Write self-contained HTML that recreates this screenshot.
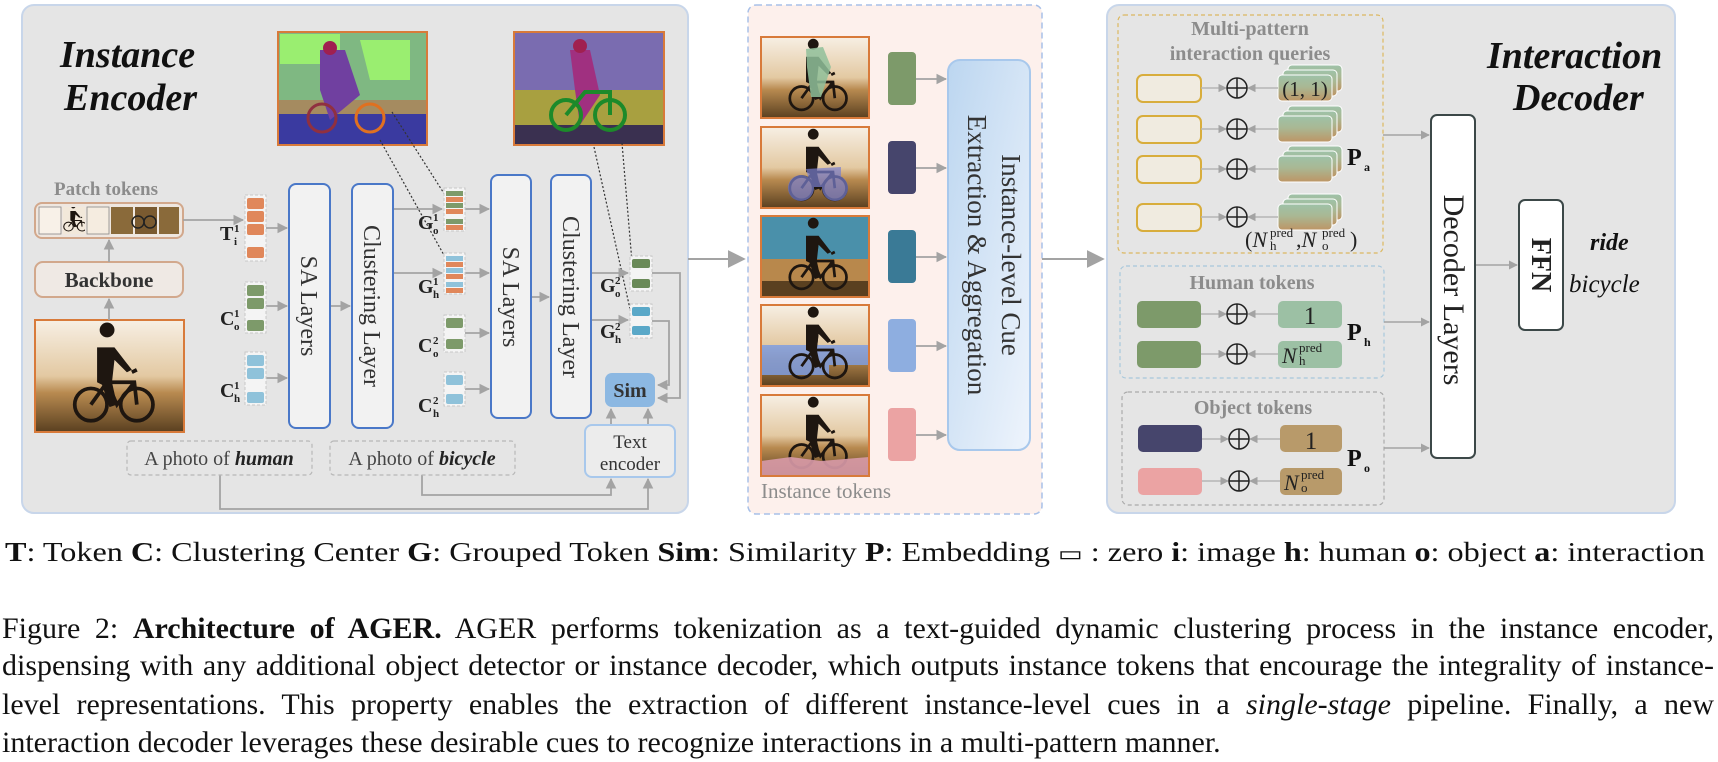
<!DOCTYPE html>
<html><head><meta charset="utf-8">
<style>
html,body{margin:0;padding:0;background:#fff;width:1718px;height:760px;overflow:hidden}
svg text{font-family:"Liberation Serif",serif}
.cap{position:absolute;left:2px;width:1712px;font-family:"Liberation Serif",serif;font-size:30px;color:#111;text-align:justify;text-align-last:justify;white-space:nowrap;line-height:38px}
</style></head><body>
<svg width="1718" height="760" viewBox="0 0 1718 760" style="position:absolute;left:0;top:0">
<defs>
<marker id="ar" viewBox="0 0 10 10" refX="9" refY="5" markerWidth="6" markerHeight="6" orient="auto"><path d="M0,0 L10,5 L0,10 z" fill="#a3a3a3"/></marker>
<marker id="arb" viewBox="0 0 10 10" refX="9" refY="5" markerWidth="9" markerHeight="9" orient="auto"><path d="M0,0 L10,5 L0,10 z" fill="#a3a3a3"/></marker>
<linearGradient id="sep" x1="0" y1="0" x2="0" y2="1"><stop offset="0" stop-color="#f7efe4"/><stop offset="0.5" stop-color="#e3c9a2"/><stop offset="0.65" stop-color="#b88a50"/><stop offset="1" stop-color="#5a4020"/></linearGradient>
<linearGradient id="cue" x1="0" y1="0" x2="1" y2="1"><stop offset="0" stop-color="#bcd6f0"/><stop offset="1" stop-color="#eef4fc"/></linearGradient>
<linearGradient id="stk" x1="0" y1="0" x2="0" y2="1"><stop offset="0" stop-color="#9ec2a8"/><stop offset="0.45" stop-color="#a9b894"/><stop offset="1" stop-color="#bd9565"/></linearGradient>
<symbol id="cyc" viewBox="0 0 120 90">
<g fill="none" stroke="#1e1610" stroke-width="3"><circle cx="45" cy="68" r="13"/><circle cx="82" cy="68" r="13"/><path d="M45,68 L58,50 L80,50 L82,68 M58,50 L66,68 L80,50 M78,42 L82,40"/></g>
<path d="M58,14 a6,6 0 1 1 0.1,0 z M50,22 L64,22 L78,40 L74,42 L64,32 L62,50 L66,68 L60,70 L54,52 L50,50 Z" fill="#1e1610"/>
</symbol>
<symbol id="ph" viewBox="0 0 120 90" preserveAspectRatio="none"><rect width="120" height="90" fill="url(#sep)"/><use href="#cyc" width="120" height="90"/></symbol>
</defs>

<rect x="22" y="5" width="666" height="508" rx="12" fill="#e5e5e5" stroke="#c8d6ea" stroke-width="2"/>
<text x="60" y="67" font-size="38" font-style="italic" font-weight="bold" fill="#111">Instance</text>
<text x="64" y="110" font-size="38" font-style="italic" font-weight="bold" fill="#111">Encoder</text>
<rect x="278" y="32" width="149" height="113" fill="#7fb882" stroke="#d87a3a" stroke-width="2"/>
<path d="M280,34 h60 v30 h-60z M360,40 h50 v40 h-40z" fill="#9aee70"/>
<rect x="279" y="100" width="147" height="44" fill="#3a3aa0"/>
<path d="M279,100 h147 v14 h-147z" fill="#c0a050" opacity="0.8"/>
<path d="M320,50 L345,50 L360,95 L330,120 L320,90Z" fill="#7040a0"/>
<circle cx="330" cy="48" r="7" fill="#a02050"/>
<circle cx="322" cy="118" r="14" fill="none" stroke="#903040" stroke-width="3"/>
<circle cx="370" cy="118" r="14" fill="none" stroke="#e07020" stroke-width="3"/>
<rect x="514" y="32" width="150" height="113" fill="#7a6cb0" stroke="#d87a3a" stroke-width="2"/>
<rect x="515" y="90" width="148" height="54" fill="#a8a040"/>
<rect x="515" y="125" width="148" height="19" fill="#3a3050"/>
<path d="M570,50 L590,50 L600,95 L580,125 L575,90Z" fill="#a03080"/>
<circle cx="580" cy="46" r="7" fill="#a02050"/>
<circle cx="566" cy="115" r="15" fill="none" stroke="#1c8a2a" stroke-width="4"/>
<circle cx="610" cy="115" r="15" fill="none" stroke="#1c8a2a" stroke-width="4"/>
<path d="M566,115 L585,92 L610,92 L610,115" fill="none" stroke="#1c8a2a" stroke-width="4"/>
<g stroke="#333" stroke-width="1.2" stroke-dasharray="2,2" fill="none">
<path d="M380,140 L445,257"/><path d="M392,112 L445,195"/>
<path d="M594,147 L630,309"/><path d="M622,143 L632,262"/>
</g>
<text x="54" y="195" font-size="19" font-weight="bold" fill="#8c8c8c">Patch tokens</text>
<rect x="35" y="203" width="148" height="35" rx="7" fill="#efe7e0" stroke="#d2a88c" stroke-width="2"/>
<rect x="39" y="207" width="22" height="27" fill="#f8f1e8" stroke="#888" stroke-width="0.8"/>
<svg x="63" y="207" width="22" height="27" viewBox="30 10 60 80" preserveAspectRatio="none"><rect x="0" y="0" width="120" height="90" fill="#f2e8da"/><use href="#cyc" width="120" height="90"/></svg>
<rect x="87" y="207" width="22" height="27" fill="#f5ece0" stroke="#888" stroke-width="0.8"/>
<rect x="111" y="207" width="22" height="27" fill="#8a6a3a"/>
<rect x="135" y="207" width="22" height="27" fill="#7a5a30"/>
<rect x="159" y="207" width="20" height="27" fill="#8a6a3a"/>
<circle cx="138" cy="222" r="6" fill="none" stroke="#222" stroke-width="1.5"/><circle cx="150" cy="222" r="6" fill="none" stroke="#222" stroke-width="1.5"/>
<rect x="35" y="262" width="148" height="35" rx="8" fill="#efe9e4" stroke="#d2a88c" stroke-width="2"/>
<text x="109" y="287" font-size="21" font-weight="bold" fill="#333" text-anchor="middle">Backbone</text>
<svg x="35" y="320" width="149" height="112"><use href="#ph" width="149" height="112"/></svg>
<rect x="35" y="320" width="149" height="112" fill="none" stroke="#d87a3a" stroke-width="2"/>
<g stroke="#a3a3a3" stroke-width="1.8" fill="none" marker-end="url(#ar)">
<path d="M109,320 L109,299"/><path d="M109,262 L109,240"/>
<path d="M183,220 L243,220"/>
<path d="M266,228 L287,228"/><path d="M266,306 L287,306"/><path d="M266,378 L287,378"/>
<path d="M330,306 L350,306"/>
<path d="M393,209 L442,209"/><path d="M393,273 L442,273"/>
<path d="M465,209 L489,209"/><path d="M465,273 L489,273"/><path d="M465,333 L489,333"/><path d="M465,389 L489,389"/>
<path d="M531,297 L549,297"/>
<path d="M591,273 L628,273"/><path d="M591,320 L628,320"/>
<path d="M652,273 L680,273 L680,398 L658,398"/><path d="M652,321 L669,321 L669,385 L658,385"/>
<path d="M611,425 L611,409"/><path d="M648,425 L648,409"/>
<path d="M422,475 L422,495 L611,495 L611,479"/><path d="M220,475 L220,509 L648,509 L648,479"/>
</g>
<g stroke="#c8c8c8" stroke-width="1" stroke-dasharray="3,2" fill="#f4f4f4">
<rect x="245" y="195" width="21" height="66"/><rect x="245" y="282" width="21" height="51"/><rect x="245" y="352" width="21" height="53"/>
<rect x="444" y="188" width="21" height="43"/><rect x="444" y="253" width="21" height="41"/><rect x="444" y="315" width="21" height="37"/><rect x="444" y="372" width="21" height="34"/>
<rect x="630" y="256" width="22" height="35"/><rect x="630" y="304" width="22" height="34"/>
</g>
<g fill="#e0875a"><rect x="247" y="198" width="17" height="11" rx="2"/><rect x="247" y="211" width="17" height="11" rx="2"/><rect x="247" y="224" width="17" height="11" rx="2"/><rect x="247" y="247" width="17" height="11" rx="2"/></g>
<g fill="#7d9a6a"><rect x="247" y="285" width="17" height="11" rx="2"/><rect x="247" y="298" width="17" height="11" rx="2"/><rect x="247" y="320" width="17" height="11" rx="2"/></g>
<g fill="#8fc2da"><rect x="247" y="355" width="17" height="11" rx="2"/><rect x="247" y="368" width="17" height="11" rx="2"/><rect x="247" y="392" width="17" height="11" rx="2"/></g>
<g><rect x="446" y="191" width="17" height="5" fill="#7d9a6a"/><rect x="446" y="197" width="17" height="5" fill="#e0875a"/><rect x="446" y="203" width="17" height="5" fill="#7d9a6a"/><rect x="446" y="209" width="17" height="5" fill="#e0875a"/><rect x="446" y="219" width="17" height="5" fill="#7d9a6a"/><rect x="446" y="225" width="17" height="5" fill="#e0875a"/>
<rect x="446" y="256" width="17" height="5" fill="#8fc2da"/><rect x="446" y="262" width="17" height="5" fill="#e0875a"/><rect x="446" y="268" width="17" height="5" fill="#8fc2da"/><rect x="446" y="274" width="17" height="5" fill="#e0875a"/><rect x="446" y="282" width="17" height="5" fill="#8fc2da"/><rect x="446" y="288" width="17" height="5" fill="#e0875a"/>
<rect x="446" y="318" width="17" height="10" rx="2" fill="#7d9a6a"/><rect x="446" y="339" width="17" height="10" rx="2" fill="#7d9a6a"/>
<rect x="446" y="375" width="17" height="10" rx="2" fill="#8fc2da"/><rect x="446" y="394" width="17" height="10" rx="2" fill="#8fc2da"/>
<rect x="632" y="259" width="18" height="9" rx="2" fill="#6a8a58"/><rect x="632" y="279" width="18" height="9" rx="2" fill="#6a8a58"/>
<rect x="632" y="307" width="18" height="9" rx="2" fill="#5aa8c8"/><rect x="632" y="326" width="18" height="9" rx="2" fill="#5aa8c8"/></g>
<g font-weight="bold" fill="#222">
<text x="220" y="240" font-size="20">T</text><text x="234" y="232" font-size="11">1</text><text x="234" y="245" font-size="11">i</text>
<text x="220" y="325" font-size="20">C</text><text x="234" y="317" font-size="11">1</text><text x="234" y="330" font-size="11">o</text>
<text x="220" y="397" font-size="20">C</text><text x="234" y="389" font-size="11">1</text><text x="234" y="402" font-size="11">h</text>
<text x="418" y="229" font-size="20">G</text><text x="433" y="221" font-size="11">1</text><text x="433" y="234" font-size="11">o</text>
<text x="418" y="293" font-size="20">G</text><text x="433" y="285" font-size="11">1</text><text x="433" y="298" font-size="11">h</text>
<text x="418" y="352" font-size="20">C</text><text x="433" y="344" font-size="11">2</text><text x="433" y="357" font-size="11">o</text>
<text x="418" y="412" font-size="20">C</text><text x="433" y="404" font-size="11">2</text><text x="433" y="417" font-size="11">h</text>
<text x="600" y="292" font-size="20">G</text><text x="615" y="284" font-size="11">2</text><text x="615" y="297" font-size="11">o</text>
<text x="600" y="338" font-size="20">G</text><text x="615" y="330" font-size="11">2</text><text x="615" y="343" font-size="11">h</text>
</g>
<g fill="#f2f2f2" stroke="#4a78c8" stroke-width="2">
<rect x="289" y="184" width="41" height="244" rx="7"/><rect x="352" y="184" width="41" height="244" rx="7"/>
<rect x="491" y="175" width="40" height="243" rx="7"/><rect x="551" y="175" width="40" height="243" rx="7"/>
</g>
<g font-size="24" fill="#333" text-anchor="middle">
<text transform="translate(301,306) rotate(90)">SA Layers</text>
<text transform="translate(364,306) rotate(90)">Clustering Layer</text>
<text transform="translate(503,297) rotate(90)">SA Layers</text>
<text transform="translate(563,297) rotate(90)">Clustering Layer</text>
</g>
<rect x="605" y="373" width="50" height="34" rx="7" fill="#8cb8e2"/>
<text x="630" y="397" font-size="20" font-weight="bold" fill="#333" text-anchor="middle">Sim</text>
<rect x="585" y="425" width="90" height="52" rx="7" fill="#ececec" stroke="#a8c8ec" stroke-width="2"/>
<text x="630" y="448" font-size="19" fill="#333" text-anchor="middle">Text</text>
<text x="630" y="470" font-size="19" fill="#333" text-anchor="middle">encoder</text>
<rect x="127" y="441" width="185" height="34" rx="4" fill="none" stroke="#b8b8b8" stroke-width="1.2" stroke-dasharray="4,3"/>
<rect x="330" y="441" width="185" height="34" rx="4" fill="none" stroke="#b8b8b8" stroke-width="1.2" stroke-dasharray="4,3"/>
<text x="219" y="465" font-size="20" fill="#444" text-anchor="middle">A photo of <tspan font-weight="bold" font-style="italic" fill="#222">human</tspan></text>
<text x="422" y="465" font-size="20" fill="#444" text-anchor="middle">A photo of <tspan font-weight="bold" font-style="italic" fill="#222">bicycle</tspan></text>

<path d="M688,259 L744,259" stroke="#a3a3a3" stroke-width="2" fill="none" marker-end="url(#arb)"/>

<rect x="748" y="5" width="294" height="509" rx="8" fill="#fdf0ec" stroke="#a8c0e8" stroke-width="1.5" stroke-dasharray="6,4"/>
<svg x="761" y="37" width="108" height="81"><use href="#ph" width="108" height="81"/><path d="M45,12 L62,10 L70,30 L60,60 L50,60 L46,30Z" fill="#8fc09a" opacity="0.85"/></svg>
<svg x="761" y="127" width="108" height="81"><use href="#ph" width="108" height="81"/><g fill="#7a80d0" opacity="0.7"><circle cx="40" cy="61" r="13"/><circle cx="74" cy="61" r="13"/><path d="M45,42 L80,40 L80,60 L50,60Z"/></g></svg>
<svg x="761" y="216" width="108" height="81"><rect width="108" height="81" fill="#4a90aa"/><rect y="43" width="108" height="38" fill="#b8884c"/><rect y="65" width="108" height="16" fill="#5a4020"/><use href="#cyc" width="108" height="81"/></svg>
<svg x="761" y="305" width="108" height="81"><use href="#ph" width="108" height="81"/><path d="M0,40 h108 v20 h-40 v10 h-68z" fill="#7f9ee0" opacity="0.85"/><use href="#cyc" width="108" height="81"/></svg>
<svg x="761" y="395" width="108" height="81"><use href="#ph" width="108" height="81"/><path d="M0,66 L30,62 L60,66 L108,62 V81 H0z" fill="#d89aa8" opacity="0.9"/></svg>
<g fill="none" stroke="#d87a3a" stroke-width="2">
<rect x="761" y="37" width="108" height="81"/><rect x="761" y="127" width="108" height="81"/><rect x="761" y="216" width="108" height="81"/><rect x="761" y="305" width="108" height="81"/><rect x="761" y="395" width="108" height="81"/></g>
<rect x="888" y="52" width="28" height="53" rx="4" fill="#7d9a6a"/>
<rect x="888" y="141" width="28" height="53" rx="4" fill="#46456c"/>
<rect x="888" y="230" width="28" height="53" rx="4" fill="#3a7a96"/>
<rect x="888" y="319" width="28" height="53" rx="4" fill="#8eaee0"/>
<rect x="888" y="408" width="28" height="53" rx="4" fill="#eba3a3"/>
<g stroke="#a3a3a3" stroke-width="1.8" marker-end="url(#ar)">
<path d="M916,79 L946,79"/><path d="M916,168 L946,168"/><path d="M916,257 L946,257"/><path d="M916,346 L946,346"/><path d="M916,435 L946,435"/></g>
<rect x="948" y="60" width="82" height="390" rx="12" fill="url(#cue)" stroke="#a8c8ec" stroke-width="2"/>
<g font-size="27" fill="#333" text-anchor="middle">
<text transform="translate(1002,255) rotate(90)">Instance-level Cue</text>
<text transform="translate(968,255) rotate(90)">Extraction &amp; Aggregation</text></g>
<text x="761" y="498" font-size="21" fill="#8c8c8c">Instance tokens</text>
<path d="M1042,259 L1103,259" stroke="#a3a3a3" stroke-width="2" fill="none" marker-end="url(#arb)"/>

<rect x="1107" y="5" width="568" height="508" rx="12" fill="#e5e5e5" stroke="#c8d6ea" stroke-width="2"/>
<text x="1487" y="68" font-size="38" font-style="italic" font-weight="bold" fill="#111">Interaction</text>
<text x="1513" y="110" font-size="38" font-style="italic" font-weight="bold" fill="#111">Decoder</text>
<rect x="1118" y="15" width="265" height="238" rx="6" fill="none" stroke="#dcb860" stroke-width="1.2" stroke-dasharray="4,3"/>
<rect x="1120" y="266" width="264" height="112" rx="6" fill="none" stroke="#a8c8dc" stroke-width="1.2" stroke-dasharray="4,3"/>
<rect x="1122" y="392" width="262" height="113" rx="6" fill="none" stroke="#aaaaaa" stroke-width="1.2" stroke-dasharray="4,3"/>
<g font-size="20" font-weight="bold" fill="#8c8c8c" text-anchor="middle">
<text x="1250" y="35">Multi-pattern</text><text x="1250" y="60">interaction queries</text>
<text x="1252" y="289">Human tokens</text><text x="1253" y="414">Object tokens</text></g>
<g fill="#f0ebe0" stroke="#d8ad3c" stroke-width="2">
<rect x="1137" y="75" width="64" height="27" rx="6"/><rect x="1137" y="116" width="64" height="27" rx="6"/><rect x="1137" y="156" width="64" height="27" rx="6"/><rect x="1137" y="204" width="64" height="27" rx="6"/></g>
<g stroke="#fff" stroke-width="1" fill="url(#stk)">
<rect x="1288" y="65" width="54" height="26" rx="4"/><rect x="1283" y="70" width="54" height="26" rx="4"/><rect x="1278" y="75" width="54" height="26" rx="4"/>
<rect x="1288" y="106" width="54" height="26" rx="4"/><rect x="1283" y="111" width="54" height="26" rx="4"/><rect x="1278" y="116" width="54" height="26" rx="4"/>
<rect x="1288" y="146" width="54" height="26" rx="4"/><rect x="1283" y="151" width="54" height="26" rx="4"/><rect x="1278" y="156" width="54" height="26" rx="4"/>
<rect x="1288" y="194" width="54" height="26" rx="4"/><rect x="1283" y="199" width="54" height="26" rx="4"/><rect x="1278" y="204" width="54" height="26" rx="4"/></g>
<text x="1305" y="96" font-size="21" fill="#222" text-anchor="middle">(1, 1)</text>
<g fill="#7d9a6a"><rect x="1137" y="301" width="64" height="27" rx="5"/><rect x="1137" y="341" width="64" height="27" rx="5"/></g>
<g fill="#9cc0a4"><rect x="1278" y="301" width="64" height="27" rx="5"/><rect x="1278" y="341" width="64" height="27" rx="5"/></g>
<rect x="1138" y="425" width="64" height="27" rx="5" fill="#46456c"/><rect x="1138" y="468" width="64" height="27" rx="5" fill="#eba3a3"/>
<g fill="#b89a6a"><rect x="1280" y="425" width="62" height="27" rx="5"/><rect x="1280" y="468" width="62" height="27" rx="5"/></g>
<g stroke="#b5b5b5" stroke-width="1.4" fill="none" marker-end="url(#ar)">
<path d="M1201,88 L1226,88"/><path d="M1201,129 L1226,129"/><path d="M1201,169 L1226,169"/><path d="M1201,217 L1226,217"/>
<path d="M1278,88 L1248,88"/><path d="M1278,129 L1248,129"/><path d="M1278,169 L1248,169"/><path d="M1278,217 L1248,217"/>
<path d="M1201,314 L1226,314"/><path d="M1201,354 L1226,354"/><path d="M1278,314 L1248,314"/><path d="M1278,354 L1248,354"/>
<path d="M1202,439 L1228,439"/><path d="M1202,481 L1228,481"/><path d="M1280,439 L1250,439"/><path d="M1280,481 L1250,481"/>
</g>
<g fill="none" stroke="#222" stroke-width="1.5">
<circle cx="1237" cy="88" r="10"/><circle cx="1237" cy="129" r="10"/><circle cx="1237" cy="169" r="10"/><circle cx="1237" cy="217" r="10"/>
<circle cx="1237" cy="314" r="10"/><circle cx="1237" cy="354" r="10"/><circle cx="1239" cy="439" r="10"/><circle cx="1239" cy="481" r="10"/>
<path d="M1227,88h20M1237,78v20M1227,129h20M1237,119v20M1227,169h20M1237,159v20M1227,217h20M1237,207v20M1227,314h20M1237,304v20M1227,354h20M1237,344v20M1229,439h20M1239,429v20M1229,481h20M1239,471v20"/></g>
<g fill="#222" text-anchor="middle"><text x="1310" y="324" font-size="25">1</text><text x="1311" y="449" font-size="25">1</text></g>
<text x="1282" y="363" font-size="22" font-style="italic" fill="#222">N</text><text x="1299" y="352" font-size="13" fill="#222">pred</text><text x="1299" y="365" font-size="13" fill="#222">h</text>
<text x="1284" y="490" font-size="22" font-style="italic" fill="#222">N</text><text x="1301" y="479" font-size="13" fill="#222">pred</text><text x="1301" y="492" font-size="13" fill="#222">o</text>
<text x="1245" y="247" font-size="22" fill="#222">(<tspan font-style="italic">N</tspan></text><text x="1270" y="237" font-size="13" fill="#222">pred</text><text x="1270" y="250" font-size="13" fill="#222">h</text>
<text x="1296" y="247" font-size="22" fill="#222">,<tspan font-style="italic">N</tspan></text><text x="1322" y="237" font-size="13" fill="#222">pred</text><text x="1322" y="250" font-size="13" fill="#222">o</text><text x="1350" y="247" font-size="22" fill="#222">)</text>
<g font-weight="bold" fill="#111"><text x="1347" y="165" font-size="24">P</text><text x="1364" y="171" font-size="12">a</text>
<text x="1347" y="340" font-size="24">P</text><text x="1364" y="346" font-size="12">h</text>
<text x="1347" y="466" font-size="24">P</text><text x="1364" y="472" font-size="12">o</text></g>
<g stroke="#a3a3a3" stroke-width="1.5" fill="none" marker-end="url(#ar)">
<path d="M1383,135 L1429,135"/><path d="M1384,322 L1429,322"/><path d="M1384,448 L1429,448"/><path d="M1475,265 L1517,265"/></g>
<rect x="1431" y="115" width="44" height="343" rx="6" fill="#fff" stroke="#3c4848" stroke-width="2"/>
<text transform="translate(1444,290) rotate(90)" font-size="30" fill="#222" text-anchor="middle">Decoder Layers</text>
<rect x="1519" y="200" width="44" height="130" rx="6" fill="#fff" stroke="#3c4848" stroke-width="2"/>
<text transform="translate(1532,265) rotate(90)" font-size="28" font-weight="bold" fill="#222" text-anchor="middle">FFN</text>
<text x="1590" y="250" font-size="24" font-style="italic" font-weight="bold" fill="#111">ride</text>
<text x="1569" y="292" font-size="25" font-style="italic" fill="#111">bicycle</text>

<text x="5" y="561" font-size="27" fill="#111" textLength="1700" lengthAdjust="spacingAndGlyphs"><tspan font-weight="bold">T</tspan>: Token <tspan font-weight="bold">C</tspan>: Clustering Center <tspan font-weight="bold">G</tspan>: Grouped Token <tspan font-weight="bold">Sim</tspan>: Similarity <tspan font-weight="bold">P</tspan>:  Embedding <tspan font-family="DejaVu Sans" font-size="22">▭</tspan> : zero  <tspan font-weight="bold">i</tspan>: image  <tspan font-weight="bold">h</tspan>: human  <tspan font-weight="bold">o</tspan>: object  <tspan font-weight="bold">a</tspan>: interaction</text>
</svg>
<div class="cap" style="top:610px">Figure 2: <b>Architecture of AGER.</b> AGER performs tokenization as a text-guided dynamic clustering process in the instance encoder,</div>
<div class="cap" style="top:647px">dispensing with any additional object detector or instance decoder, which outputs instance tokens that encourage the integrality of instance-</div>
<div class="cap" style="top:686px">level representations.  This property enables the extraction of different instance-level cues in a <i>single-stage</i> pipeline.  Finally, a new</div>
<div class="cap" style="top:724px;text-align-last:left;width:auto">interaction decoder leverages these desirable cues to recognize interactions in a multi-pattern manner.</div>
</body></html>
